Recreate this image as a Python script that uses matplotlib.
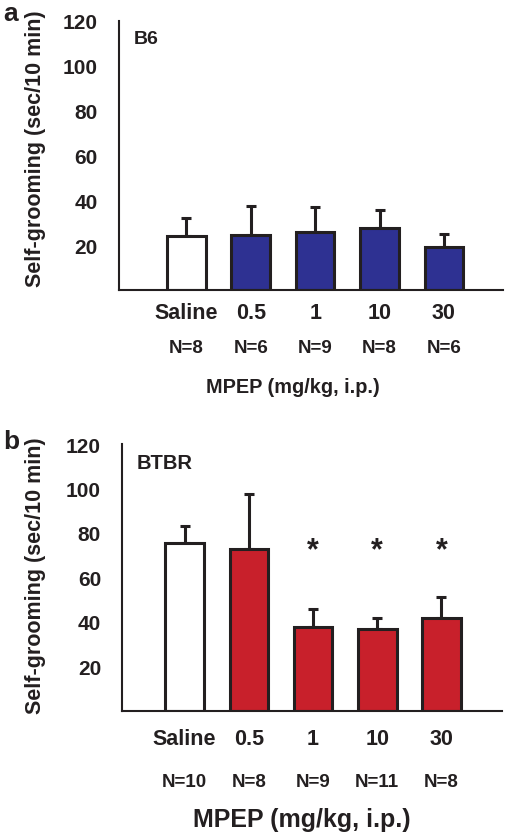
import numpy as np
import matplotlib
matplotlib.use("Agg")
import matplotlib.pyplot as plt

plt.rcParams['font.family'] = ['Liberation Sans', 'DejaVu Sans']
plt.rcParams['font.weight'] = 'bold'

doses = ['Saline', '0.5', '1', '10', '30']

# panel a: B6
b6_mean = [24.0, 24.8, 26.0, 27.7, 19.1]
b6_err = [8.2, 12.8, 10.9, 7.9, 6.1]
b6_n = ['N=8', 'N=6', 'N=9', 'N=8', 'N=6']

# panel b: BTBR
btbr_mean = [75.3, 72.9, 37.8, 36.6, 41.5]
btbr_err = [8.0, 24.4, 7.8, 4.9, 9.6]
btbr_n = ['N=10', 'N=8', 'N=9', 'N=11', 'N=8']
btbr_sig = [False, False, True, True, True]

ink = '#231F20'
blue = '#2E3192'
red = '#C8202B'

fig = plt.figure(figsize=(5.10, 8.37), dpi=100)


def panel(rect, mean, err, nlab, color, strain, strain_size, xlim, ylab_xy,
          lab_y, n_y, mp_y, mp_x, mp_size, sig=None):
    ax = fig.add_axes(rect)
    x = np.arange(len(mean))
    colors = ['white'] + [color] * (len(mean) - 1)
    ax.errorbar(x, mean, yerr=[np.zeros(len(err)), err], fmt='none',
                ecolor=ink, elinewidth=2.2, capsize=3.5, capthick=2.2, zorder=1)
    ax.bar(x, mean, width=0.6, color=colors, edgecolor=ink, linewidth=2.2, zorder=2)
    ax.set_xlim(*xlim)
    ax.set_ylim(0, 120)
    ax.set_yticks([20, 40, 60, 80, 100, 120])
    ax.set_xticks([])
    ax.tick_params(axis='y', length=0, pad=15, labelsize=15, colors=ink)
    for t in ax.get_yticklabels():
        t.set_fontweight('bold')
    for s in ['top', 'right']:
        ax.spines[s].set_visible(False)
    for s in ['left', 'bottom']:
        ax.spines[s].set_linewidth(1.5)
        ax.spines[s].set_color(ink)
    ax.set_ylabel('Self-grooming (sec/10 min)', fontsize=15.5, fontweight='bold',
                  color=ink)
    ax.yaxis.set_label_coords(*ylab_xy)
    ax.text(0.04, 0.965, strain, transform=ax.transAxes, fontsize=strain_size,
            fontweight='bold', color=ink, va='top')
    tr = ax.get_xaxis_transform()
    for i in range(len(mean)):
        ax.text(x[i], lab_y, doses[i], transform=tr, ha='center', va='center',
                fontsize=15.5, fontweight='bold', color=ink)
        ax.text(x[i], n_y, nlab[i], transform=tr, ha='center', va='center',
                fontsize=13.5, fontweight='bold', color=ink)
        if sig is not None and sig[i]:
            ax.text(x[i], 72, '*', ha='center', va='center', fontsize=22,
                    fontweight='bold', color=ink)
    ax.text(mp_x, mp_y, 'MPEP (mg/kg, i.p.)', transform=tr, ha='center',
            va='center', fontsize=mp_size, fontweight='bold', color=ink)
    return ax


panel([0.233, 0.652, 0.753, 0.322], b6_mean, b6_err, b6_n, blue, 'B6', 14,
      (-1.048, 4.915), (-0.19, 0.528), -0.082, -0.212, -0.357, 1.66, 14.3)
panel([0.239, 0.1497, 0.745, 0.3186], btbr_mean, btbr_err, btbr_n, red, 'BTBR', 14.5,
      (-0.977, 4.94), (-0.20, 0.511), -0.106, -0.264, -0.406, 1.82, 18, sig=btbr_sig)

fig.text(0.006, 0.998, 'a', fontsize=19, fontweight='bold', color=ink, va='top')
fig.text(0.006, 0.472, 'b', fontsize=19, fontweight='bold', color=ink, va='center')

fig.savefig('out.png', dpi=100)
